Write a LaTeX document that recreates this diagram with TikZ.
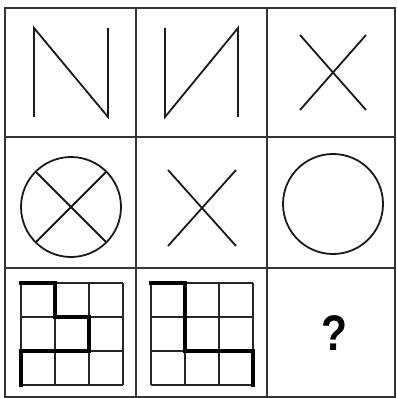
\documentclass[tikz,border=0pt]{standalone}
\usepackage{fontspec}
\usepackage{tikz}
\usetikzlibrary{positioning}
\newfontfamily\qfont{Liberation Sans}
\tikzset{>=latex}
\tikzset{frameline/.style={line width=2pt, draw=black!80}}
\tikzset{figline/.style={line width=1.8pt, draw=black!90}}
\tikzset{thinsq/.style={line width=1.4pt, draw=black!85}}
\tikzset{thicksq/.style={line width=3.2pt, draw=black, line cap=rect}}
\begin{document}
\begin{tikzpicture}[x=1pt, y=-1pt]
        \useasboundingbox (0, 0) rectangle (396, 398); %
        % the 3x3 frame
        \draw[frameline] (5, 8) rectangle (395, 397); %
        \draw[frameline] (136, 8) -- (136, 397); %
        \draw[frameline] (267, 8) -- (267, 397); %
        \draw[frameline] (5, 137) -- (395, 137); %
        \draw[frameline] (5, 268) -- (395, 268); %
        % first row
        \draw[figline] (34, 117) -- (34, 28) -- (108, 117) -- (108, 28); %
        \draw[figline] (165, 28) -- (165, 117) -- (238, 28) -- (238, 117); %
        \draw[figline] (300, 35) -- (366, 110); %
        \draw[figline] (300, 110) -- (366, 35); %
        % second row
        \draw[figline] (71, 207) circle (50); %
        \draw[figline] (71, 207) ++(135:50) -- ++(-45:100); %
        \draw[figline] (71, 207) ++(45:50) -- ++(-135:100); %
        \draw[figline] (168, 170) -- (236, 246); %
        \draw[figline] (168, 246) -- (236, 170); %
        \draw[figline] (333, 204) circle (50); %
        % third row, small grids
        \foreach \gx in {21, 151} {
          \foreach \k in {0, 34, 68, 102} {
            \draw[thinsq] (\gx + \k, 283) -- (\gx + \k, 385); %
            \draw[thinsq] (\gx, 283 + \k) -- (\gx + 102, 283 + \k); %
          }
        }
        \draw[thicksq] (21, 283) -- (55, 283) -- (55, 317) -- (89, 317) -- (89, 351) -- (21, 351) -- (21, 385); %
        \draw[thicksq] (151, 283) -- (185, 283) -- (185, 351) -- (253, 351) -- (253, 385); %
        \node[font=\qfont\bfseries\fontsize{50}{50}\selectfont, xscale=0.85] (q) at (334, 333) {?}; %
      \end{tikzpicture}
\end{document}
